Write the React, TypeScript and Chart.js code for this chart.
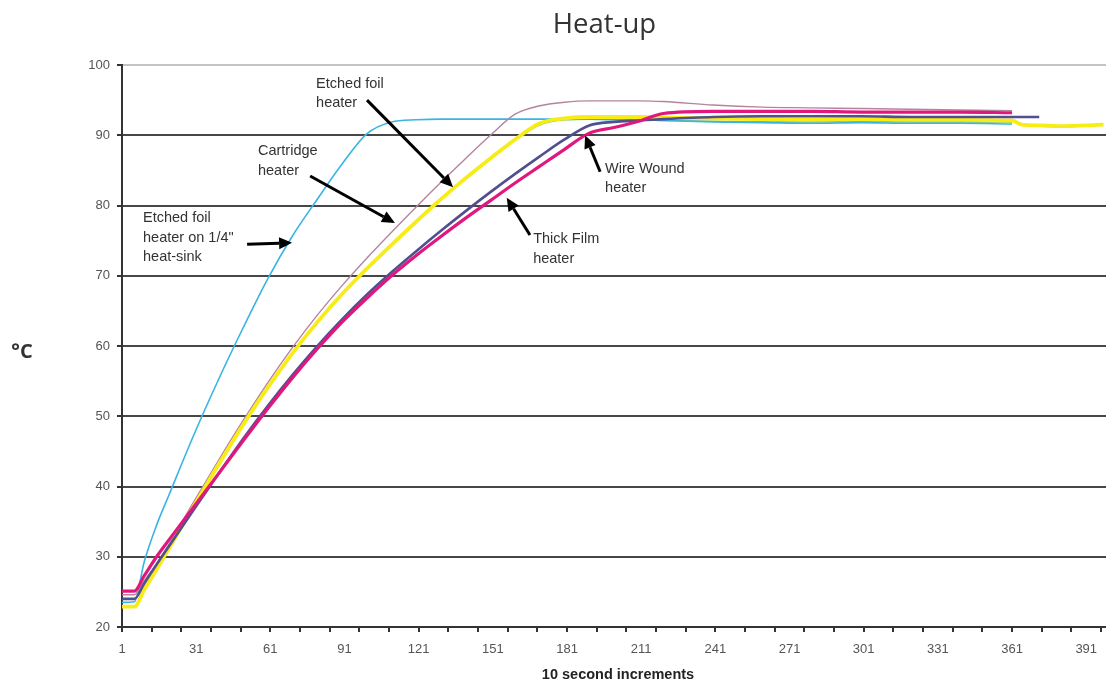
import React, { useEffect, useRef } from 'react';
import { Chart, registerables } from 'chart.js';

Chart.register(...registerables);

const INCREMENTS = [1, 6, 10, 15, 20, 30, 40, 50, 60, 70, 80, 90, 100, 110, 120, 130, 140, 150, 160, 170, 180, 190, 200, 210, 220, 240, 260, 280, 300, 320, 340, 361, 365, 372, 380, 398];

const HEATSINK_FOIL = [23.5, 23.6, 29.3, 34.5, 38.8, 47.3, 55.2, 62.6, 69.6, 75.7, 80.9, 85.9, 90.2, 91.9, 92.2, 92.3, 92.3, 92.3, 92.3, 92.3, 92.3, 92.3, 92.2, 92.2, 92.1, 91.9, 91.8, 91.7, 91.8, 91.7, 91.7, 91.6, null, null, null, null];
const ETCHED_FOIL = [24.6, 24.6, 26.6, 29.0, 31.8, 37.8, 43.7, 49.4, 54.8, 59.8, 64.4, 68.6, 72.5, 76.2, 79.8, 83.3, 86.7, 90.0, 93.0, 94.2, 94.7, 94.9, 94.9, 94.9, 94.8, 94.3, 94.0, 93.9, 93.8, 93.7, 93.6, 93.5, null, null, null, null];
const CARTRIDGE = [22.9, 22.9, 25.3, 28.2, 31.2, 37.2, 43.1, 48.8, 54.1, 59.0, 63.4, 67.4, 71.0, 74.4, 77.7, 80.9, 83.9, 86.7, 89.4, 91.7, 92.4, 92.6, 92.6, 92.6, 92.5, 92.4, 92.3, 92.2, 92.3, 92.2, 92.2, 92.1, 91.5, 91.4, 91.3, 91.5];
const SIXTH_HEATER = [22.9, 22.9, 25.2, 28.1, 31.1, 37.1, 43.0, 48.7, 54.0, 58.9, 63.3, 67.3, 70.9, 74.3, 77.6, 80.8, 83.8, 86.6, 89.3, 91.5, 92.2, 92.3, 92.3, 92.2, 92.1, 92.0, 91.9, 91.9, 91.9, 91.9, 91.9, 91.9, null, null, null, null];
const WIRE_WOUND = [24.0, 24.0, 26.2, 28.9, 31.5, 36.7, 41.8, 46.8, 51.5, 55.9, 60.0, 63.8, 67.3, 70.5, 73.5, 76.4, 79.2, 81.9, 84.5, 87.0, 89.4, 91.4, 91.9, 92.1, 92.3, 92.6, 92.7, 92.7, 92.7, 92.6, 92.6, 92.6, 92.6, 92.6, null, null];
const THICK_FILM = [25.1, 25.1, 27.3, 30.0, 32.4, 37.1, 41.8, 46.5, 51.1, 55.5, 59.6, 63.4, 66.8, 70.0, 72.9, 75.6, 78.2, 80.7, 83.2, 85.6, 88.0, 90.3, 91.1, 92.0, 93.1, 93.4, 93.4, 93.4, 93.3, 93.3, 93.3, 93.2, null, null, null, null];

const X_LABEL_TICKS = [1, 31, 61, 91, 121, 151, 181, 211, 241, 271, 301, 331, 361, 391];
const X_MARK_TICKS = [1, 13, 25, 37, 49, 61, 73, 85, 97, 109, 121, 133, 145, 157, 169, 181, 193, 205, 217, 229, 241, 253, 265, 277, 289, 301, 313, 325, 337, 349, 361, 373, 385, 397];

const TITLE = 'Heat-up';
const Y_TITLE = '°C';
const X_TITLE = '10 second increments';

// annotation labels in data coordinates: [increment, °C]
const ANNOTATIONS = [
  { lines: ['Etched foil', 'heater on 1/4"', 'heat-sink'], at: [9.5, 78.2], from: [51.6, 74.5], to: [69.8, 74.7] },
  { lines: ['Cartridge', 'heater'], at: [56.0, 87.7], from: [77.1, 84.2], to: [111.4, 77.5] },
  { lines: ['Etched foil', 'heater'], at: [79.5, 97.3], from: [100.1, 95.0], to: [134.9, 82.6] },
  { lines: ['Wire Wound', 'heater'], at: [196.4, 85.2], from: [194.4, 84.8], to: [188.3, 90.0] },
  { lines: ['Thick Film', 'heater'], at: [167.3, 75.2], from: [166.0, 75.8], to: [156.6, 81.1] },
];

function drawArrow(ctx: CanvasRenderingContext2D, x1: number, y1: number, x2: number, y2: number) {
  const ang = Math.atan2(y2 - y1, x2 - x1);
  const head = 13;
  const hw = 6;
  const bx = x2 - head * Math.cos(ang);
  const by = y2 - head * Math.sin(ang);
  ctx.strokeStyle = '#000';
  ctx.fillStyle = '#000';
  ctx.lineWidth = 3;
  ctx.beginPath();
  ctx.moveTo(x1, y1);
  ctx.lineTo(bx, by);
  ctx.stroke();
  ctx.beginPath();
  ctx.moveTo(x2, y2);
  ctx.lineTo(bx + hw * Math.sin(ang), by - hw * Math.cos(ang));
  ctx.lineTo(bx - hw * Math.sin(ang), by + hw * Math.cos(ang));
  ctx.closePath();
  ctx.fill();
}

const decorPlugin = {
  id: 'decor',
  afterDatasetsDraw(chart: any) {
    const { ctx, scales } = chart;
    const xs = scales.x;
    const ys = scales.y;
    ctx.save();
    for (const a of ANNOTATIONS) {
      drawArrow(ctx, xs.getPixelForValue(a.from[0]), ys.getPixelForValue(a.from[1]), xs.getPixelForValue(a.to[0]), ys.getPixelForValue(a.to[1]));
      ctx.fillStyle = '#333';
      ctx.font = '14.5px "Liberation Sans", Arial, sans-serif';
      ctx.textAlign = 'left';
      ctx.textBaseline = 'middle';
      const x = xs.getPixelForValue(a.at[0]);
      const y0 = ys.getPixelForValue(a.at[1]);
      a.lines.forEach((t, i) => ctx.fillText(t, x, y0 + i * 19.5));
    }
    ctx.restore();
  },
  afterDraw(chart: any) {
    const { ctx, chartArea } = chart;
    ctx.save();
    ctx.fillStyle = '#333';
    ctx.textAlign = 'center';
    ctx.textBaseline = 'alphabetic';
    ctx.font = '27.5px "Open Sans", sans-serif';
    ctx.fillText(TITLE, 604.5, 33);
    ctx.font = 'bold 20px "Open Sans", sans-serif';
    ctx.textBaseline = 'middle';
    ctx.fillText(Y_TITLE, 22, 352);
    ctx.fillStyle = '#222';
    ctx.font = 'bold 14.5px "Liberation Sans", Arial, sans-serif';
    ctx.fillText(X_TITLE, (chartArea.left + chartArea.right) / 2 + 4, 675);
    ctx.restore();
  },
};

export default function App() {
  const ref = useRef<HTMLCanvasElement>(null);
  useEffect(() => {
    const mk = (label: string, values: (number | null)[], color: string, width: number, order: number) => ({
      label,
      data: INCREMENTS.map((x, i) => ({ x, y: values[i] })),
      borderColor: color,
      backgroundColor: color,
      borderWidth: width,
      pointRadius: 0,
      fill: false,
      cubicInterpolationMode: 'monotone' as const,
      spanGaps: false,
      order,
    });
    const allTicks = Array.from(new Set([...X_MARK_TICKS, ...X_LABEL_TICKS])).sort((a, b) => a - b);
    const chart = new Chart(ref.current!, {
      type: 'line',
      data: {
        datasets: [
          mk('Thick Film heater', THICK_FILM, '#e0187e', 3.2, 1),
          mk('Wire Wound heater', WIRE_WOUND, '#50508e', 2.6, 2),
          mk('Cartridge heater', CARTRIDGE, '#f7ec14', 3.8, 3),
          mk('Etched foil heater', ETCHED_FOIL, '#b4849f', 1.4, 4),
          mk('Etched foil heater on 1/4" heat-sink', HEATSINK_FOIL, '#39b4e4', 1.6, 5),
          mk('Heater 6', SIXTH_HEATER, '#78c36a', 1.6, 6),
        ],
      },
      options: {
        animation: false,
        responsive: false,
        devicePixelRatio: 1,
        layout: { padding: { top: 65, left: 0, right: 0, bottom: 0 } },
        plugins: { legend: { display: false }, tooltip: { enabled: false }, title: { display: false } },
        scales: {
          x: {
            type: 'linear',
            min: 1,
            max: 399,
            afterFit: (s: any) => { s.height = 56; s.paddingRight = 0; s.paddingLeft = 0; },
            afterBuildTicks: (s: any) => { s.ticks = allTicks.map((v) => ({ value: v })); },
            ticks: {
              autoSkip: false,
              maxRotation: 0,
              minRotation: 0,
              padding: 10,
              color: '#555',
              font: { family: '"Liberation Sans", Arial, sans-serif', size: 13 },
              callback: (v: any) => (X_LABEL_TICKS.includes(Number(v)) ? String(v) : ''),
            },
            grid: {
              drawOnChartArea: false,
              drawTicks: true,
              tickLength: 5,
              lineWidth: 2,
              tickColor: (c: any) => (X_MARK_TICKS.includes(c.tick?.value) ? '#333' : 'rgba(0,0,0,0)'),
            },
            border: { color: '#333', width: 2 },
          },
          y: {
            min: 20,
            max: 100,
            afterFit: (s: any) => { s.width = 122; s.paddingTop = 0; s.paddingBottom = 0; },
            ticks: {
              stepSize: 10,
              padding: 7,
              color: '#555',
              font: { family: '"Liberation Sans", Arial, sans-serif', size: 13 },
            },
            grid: {
              drawTicks: true,
              tickLength: 5,
              lineWidth: 2,
              color: (c: any) => (c.tick?.value === 100 ? '#c4c4c4' : '#474747'),
              tickColor: '#333',
            },
            border: { color: '#333', width: 2 },
          },
        },
      },
      plugins: [decorPlugin],
    } as any);
    return () => chart.destroy();
  }, []);
  return (
    <div style={{ position: 'absolute', left: 0, top: 0, width: 1106, height: 683, background: '#fff' }}>
      <canvas ref={ref} width={1106} height={683} style={{ display: 'block', width: 1106, height: 683 }} />
    </div>
  );
}
